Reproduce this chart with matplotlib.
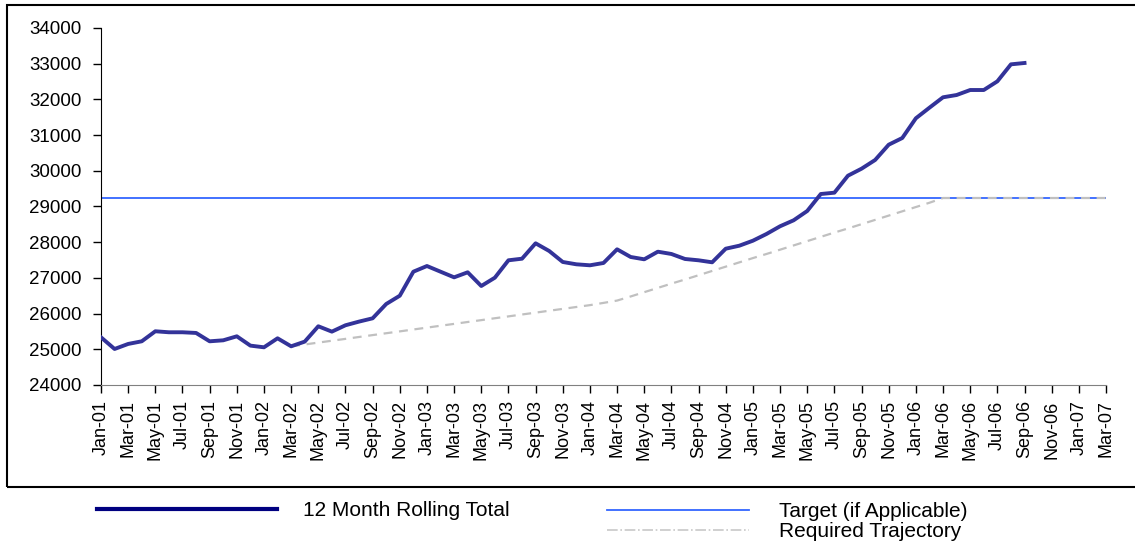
import matplotlib.pyplot as plt
import numpy as np
import pandas as pd
from matplotlib.lines import Line2D
from matplotlib.patches import Rectangle

plt.rcParams['font.family'] = ['Liberation Sans', 'DejaVu Sans']

months = pd.date_range('2001-01-01', '2007-03-01', freq='MS').strftime('%b-%y').tolist()

# 12 month rolling total, Jan-01 .. Sep-06
rolling = [25336, 25009, 25150, 25224, 25505, 25477, 25477, 25458, 25224, 25252, 25364, 25103,
           25056, 25308, 25084, 25215, 25645, 25495, 25673, 25776, 25868, 26269, 26501, 27174,
           27333, 27174, 27016, 27157, 26773, 27006, 27493, 27538, 27969, 27754, 27446, 27381,
           27353, 27418, 27801, 27586, 27521, 27734, 27670, 27530, 27493, 27437, 27818, 27902,
           28042, 28230, 28446, 28614, 28874, 29350, 29387, 29863, 30059, 30303, 30731, 30919,
           31471, 31768, 32059, 32123, 32263, 32263, 32506, 32982, 33020]

target = 29238

# required trajectory, Mar-02 .. Mar-07
traj_start = 14
trajectory = [25084, 25135, 25188, 25240, 25292, 25345, 25398, 25450, 25502, 25555,
              25607, 25660, 25712, 25765, 25817, 25870, 25922, 25975, 26027, 26080,
              26132, 26185, 26237, 26300, 26365, 26480, 26600, 26720, 26840, 26955,
              27075, 27195, 27315, 27435, 27555, 27670, 27790, 27910, 28030, 28150,
              28270, 28385, 28505, 28625, 28745, 28865, 28985, 29105, 29238, 29238,
              29238, 29238, 29238, 29238, 29238, 29238, 29238, 29238, 29238, 29238, 29238]

fig = plt.figure(figsize=(11.35, 5.49), dpi=100)
ax = fig.add_axes([101/1135, 1 - 385/549, (1106 - 101)/1135, (385 - 28)/549])

x = np.arange(len(months))
ax.plot(x, [target]*len(x), color='#3366FF', lw=1.3, zorder=2)
ax.plot(np.arange(traj_start, traj_start + len(trajectory)), trajectory,
        color='#C0C0C0', lw=1.6, dashes=(4, 3), zorder=3)
ax.plot(np.arange(len(rolling)), rolling, color='#333399', lw=2.8, zorder=4)

ax.set_xlim(0, len(months) - 1)
ax.set_ylim(24000, 34000)
ax.set_yticks(np.arange(24000, 34001, 1000))
ax.set_xticks(x[::2])
ax.set_xticklabels(months[::2], rotation=90)
ax.tick_params(axis='both', direction='out', length=6, width=1)
ax.tick_params(axis='y', labelsize=13.5, pad=8)
ax.tick_params(axis='x', labelsize=13, pad=5)
for s in ['top', 'right']:
    ax.spines[s].set_visible(False)
ax.spines['bottom'].set_color('#808080')
ax.spines['left'].set_color('black')

# outer frame
fig.add_artist(Rectangle((7/1135, 1 - 487/549), 1.2, (487 - 5)/549,
                         transform=fig.transFigure, fill=False, lw=1.5, ec='black', clip_on=False))

# legends
h1 = [Line2D([], [], color='#000080', lw=3)]
fig.legend(h1, ['12 Month Rolling Total'], loc='center left', bbox_to_anchor=(97/1135, 1 - 511/549),
           frameon=False, fontsize=15, handlelength=8.65, handletextpad=1.25,
           borderpad=0, borderaxespad=0)
h2 = [Line2D([], [], color='#3366FF', lw=1.3),
      Line2D([], [], color='#C8C8C8', lw=1.2, ls='-.')]
fig.legend(h2, ['Target (if Applicable)', 'Required Trajectory'], loc='center left',
           bbox_to_anchor=(607/1135, 1 - 521.5/549), frameon=False, fontsize=15,
           handlelength=6.8, handletextpad=1.45, labelspacing=0.05,
           borderpad=0, borderaxespad=0)

fig.savefig('out.png', dpi=100)
